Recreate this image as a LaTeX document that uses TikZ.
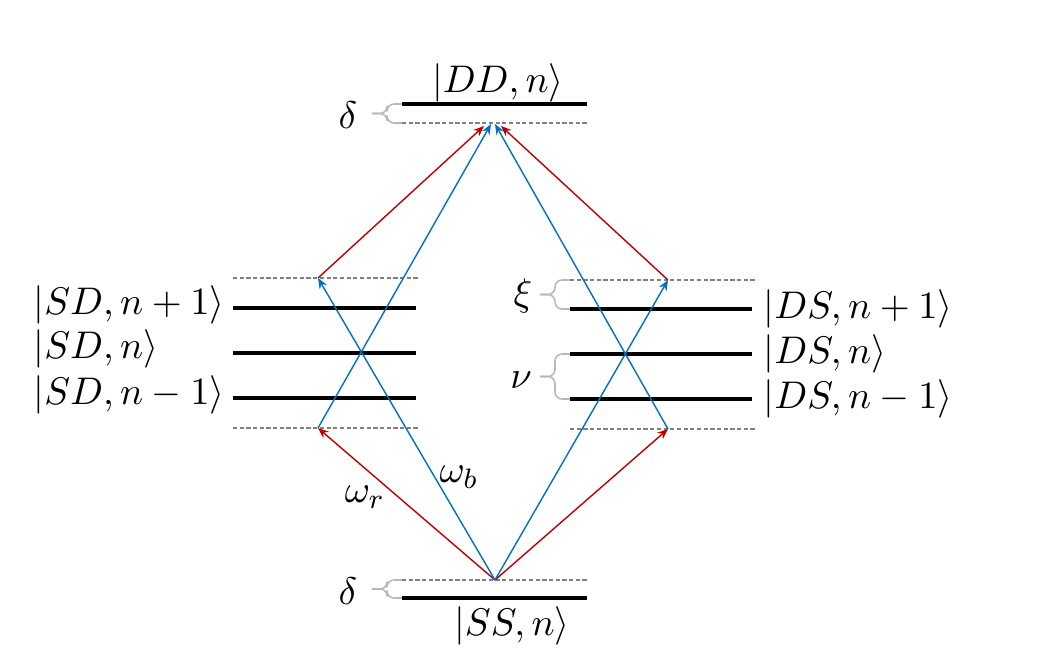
\documentclass[tikz,border=0pt]{standalone}
\usetikzlibrary{arrows.meta}
\definecolor{pumpred}{RGB}{192,0,0}
\definecolor{pumpblue}{RGB}{0,112,192}
\begin{document}
\begin{tikzpicture}[x=.01cm,y=-.01cm,>={Stealth[length=3pt,width=2.4pt]},
  line join=round,
  level/.style={line width=1.4pt},
  virt/.style={gray,line width=.35pt,dash pattern=on 1.2pt off .7pt},
  redpump/.style={->,pumpred,line width=.4pt},
  bluepump/.style={->,pumpblue,line width=.4pt},
  gap/.style={gray!55,line width=.45pt,rounded corners=2pt},
  lbl/.style={inner sep=0pt,font=\fontsize{11}{13}\selectfont}]
  \useasboundingbox (0,0) rectangle (1056,666);
  % |DD,n> and its detuned level
  \draw[level] (402,104) -- (587,104);
  \draw[virt] (402,123) -- (587,123);
  \coordinate (ddr1) at (484,126);
  \coordinate (ddb1) at (491,124);
  \coordinate (ddb2) at (495,124);
  \coordinate (ddr2) at (501,126);
  \node[lbl] (ddlbl) at (498,83) {$|DD,n\rangle$};
  % |SS,n> and its detuned level
  \draw[virt] (402,580) -- (587,580);
  \draw[level] (402,598) -- (587,598);
  \coordinate (ss) at (495,580);
  \node[lbl] (sslbl) at (512,626) {$|SS,n\rangle$};
  % |SD> manifold
  \draw[virt] (233,278) -- (418,278);
  \draw[level] (233,308) -- (416,308);
  \draw[level] (233,353) -- (416,353);
  \draw[level] (233,398) -- (416,398);
  \draw[virt] (233,428) -- (418,428);
  \coordinate (sdup) at (318,278);
  \coordinate (sdlo) at (318,428);
  \node[lbl,anchor=west] (sdp) at (33,305) {$|SD,n+1\rangle$};
  \node[lbl,anchor=west] (sd) at (33,349) {$|SD,n\rangle$};
  \node[lbl,anchor=west] (sdm) at (33,395) {$|SD,n-1\rangle$};
  % |DS> manifold
  \draw[virt] (570,280) -- (755,280);
  \draw[level] (570,309) -- (752,309);
  \draw[level] (570,354) -- (752,354);
  \draw[level] (570,399) -- (752,399);
  \draw[virt] (570,429) -- (755,429);
  \coordinate (dsup) at (668,280);
  \coordinate (dslo) at (668,429);
  \node[lbl,anchor=west] (dsp) at (763,309) {$|DS,n+1\rangle$};
  \node[lbl,anchor=west] (ds) at (763,354) {$|DS,n\rangle$};
  \node[lbl,anchor=west] (dsm) at (763,399) {$|DS,n-1\rangle$};
  % gaps
  \draw[gap] (402,104) -- (387,104) -- (387,113.5) -- (372,113.5);
  \draw[gap] (402,123) -- (387,123) -- (387,113.5) -- (372,113.5);
  \node[lbl] (deltatop) at (348,115) {$\delta$};
  \draw[gap] (402,580) -- (387,580) -- (387,589) -- (372,589);
  \draw[gap] (402,598) -- (387,598) -- (387,589) -- (372,589);
  \node[lbl] (deltabot) at (348,591) {$\delta$};
  \draw[gap] (570,280) -- (555,280) -- (555,294.5) -- (540,294.5);
  \draw[gap] (570,309) -- (555,309) -- (555,294.5) -- (540,294.5);
  \node[lbl] (xi) at (523,296) {$\xi$};
  \draw[gap] (570,354) -- (555,354) -- (555,376.5) -- (540,376.5);
  \draw[gap] (570,399) -- (555,399) -- (555,376.5) -- (540,376.5);
  \node[lbl] (nu) at (521,380) {$\nu$};
  % red sideband transitions
  \draw[redpump] (ss) -- (sdlo);
  \draw[redpump] (ss) -- (dslo);
  \draw[redpump] (sdup) -- (ddr1);
  \draw[redpump] (dsup) -- (ddr2);
  % blue sideband transitions
  \draw[bluepump] (ss) -- (sdup);
  \draw[bluepump] (ss) -- (dsup);
  \draw[bluepump] (sdlo) -- (ddb1);
  \draw[bluepump] (dslo) -- (ddb2);
  \node[lbl] (wr) at (365,497) {$\omega_r$};
  \node[lbl] (wb) at (459,477) {$\omega_b$};
\end{tikzpicture}
\end{document}
